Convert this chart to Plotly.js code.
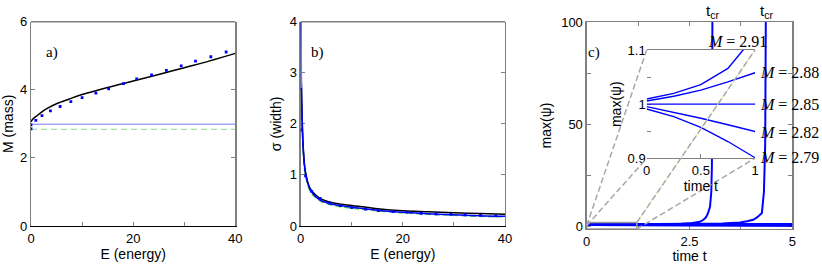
<!DOCTYPE html>
<html><head><meta charset="utf-8">
<script src="https://cdn.plot.ly/plotly-3.0.1.min.js"></script>
<style>html,body{margin:0;padding:0;background:#fff}#chart{width:822px;height:264px}</style>
</head><body><div id="chart"></div>
<script>
// ---------- Panel a) : M (mass) vs E (energy) ----------
const dotsE = [0, 0, 0.95, 2.15, 3.8, 5.7, 7.8, 10.0, 12.7, 15.2, 18.1, 20.7, 23.6, 26.5, 29.4, 32.2, 35.2, 38.2];
const dotsM = [2.85, 2.97, 3.10, 3.24, 3.38, 3.51, 3.65, 3.77, 3.90, 4.03, 4.18, 4.32, 4.44, 4.57, 4.70, 4.84, 4.97, 5.11];
const curveE_a = [0, 0.25, 0.5, 1, 2, 3, 5, 7.5, 10, 15, 20, 25, 30, 35, 40];
const curveM_a = [3.06, 3.12, 3.16, 3.22, 3.34, 3.44, 3.59, 3.73, 3.86, 4.07, 4.26, 4.45, 4.65, 4.85, 5.07];
const levelE = [0, 40];
const levelBlueM = [2.99, 2.99];
const levelGreenM = [2.84, 2.84];
const ticksE = [0, 20, 40];
const ticksM = [0, 2, 4, 6];

// ---------- Panel b) : sigma (width) vs E (energy) ----------
const dotsSigma = [2.68, 1.88, 0.98, 0.68, 0.54, 0.45, 0.40, 0.36, 0.33, 0.30, 0.28, 0.27, 0.25, 0.24, 0.23, 0.22, 0.21, 0.20];
const curveE_b = [0.01, 0.05, 0.1, 0.2, 0.35, 0.5, 0.75, 1, 1.5, 2, 3, 4, 5, 7, 10, 15, 20, 25, 30, 35, 40];
const sigmaBlack = [4.0, 3.5, 3.0, 2.5, 1.9, 1.55, 1.2, 1.03, 0.82, 0.71, 0.60, 0.53, 0.49, 0.44, 0.40, 0.34, 0.30, 0.28, 0.26, 0.245, 0.23];
const sigmaBlue  = [4.0, 3.4, 2.9, 2.4, 1.85, 1.5, 1.17, 1.0, 0.80, 0.69, 0.57, 0.50, 0.46, 0.41, 0.37, 0.31, 0.27, 0.24, 0.22, 0.20, 0.19];
const sigmaGreen = [3.6, 3.0, 2.6, 2.2, 1.75, 1.45, 1.12, 0.96, 0.77, 0.66, 0.55, 0.48, 0.44, 0.39, 0.35, 0.30, 0.26, 0.23, 0.21, 0.19, 0.18];
const lightE = [0.02, 0.05, 0.1];
const sigmaLight = [4.0, 3.2, 2.7];
const ticksSigma = [0, 1, 2, 3, 4];

// ---------- Panel c) : max(psi) vs time t ----------
const massLabels = ['2.91', '2.88', '2.85', '2.82', '2.79'];
const tA = [0, 0.25, 0.5, 0.75, 0.89, 1, 1.5, 2, 2.3, 2.5, 2.65, 2.75, 2.84, 2.9, 2.95, 3.0, 3.03, 3.045, 3.052, 3.056, 3.06];
const vA = [1.0095, 1.02, 1.036, 1.066, 1.1, 1.13, 1.2, 1.3, 1.42, 1.55, 1.8, 2.3, 3.3, 4.5, 6.5, 9.8, 17, 30, 60, 100, 130];
const tB = [0, 0.25, 0.5, 0.75, 1, 1.5, 2, 2.5, 3, 3.3, 3.5, 3.73, 3.9, 4.05, 4.15, 4.26, 4.31, 4.34, 4.355, 4.365];
const vB = [1.0058, 1.0145, 1.026, 1.041, 1.058, 1.09, 1.13, 1.2, 1.28, 1.5, 1.75, 2.0, 2.6, 3.3, 4.6, 6.6, 17, 40, 100, 130];
const tC = [0, 5];
const vC = [1, 1];
const tD = [0, 0.25, 0.5, 0.75, 1, 2, 3, 4, 5];
const vD = [0.9954, 0.985, 0.974, 0.962, 0.947, 0.90, 0.86, 0.83, 0.80];
const tE = [0, 0.25, 0.5, 0.75, 1, 2, 3, 4, 5];
const vE = [0.991, 0.977, 0.957, 0.931, 0.901, 0.80, 0.72, 0.66, 0.60];
const tCritical = [3.055, 4.36];
const ticksT = [0, 2.5, 5];
const ticksPsi = [0, 50, 100];
const ticksInsetT = [0, 0.5, 1];
const ticksInsetPsi = [0.9, 1, 1.1];

// ---------- layout geometry ----------
const domA = [0.0377, 0.2863], domB = [0.3658, 0.6144], domC = [0.7137, 0.9639];
const domYab = [0.1439, 0.9178], domYc = [0.1326, 0.9167];
const domX4 = [0.7867, 0.9185], domY4 = [0.4004, 0.8106];
const rangeX3 = [0, 5], rangeY3 = [-1.2, 100], rangeX4 = [0, 1], rangeY4 = [0.9, 1.1];
const zoomBox = {x0: 0, x1: 1.22, y0: -1.2, y1: 2};

function toPaper(v, dom, rng) { return dom[0] + (v - rng[0]) / (rng[1] - rng[0]) * (dom[1] - dom[0]); }

const SANS = 'Liberation Sans, Arial, sans-serif';
const SERIF = 'Liberation Serif, Times New Roman, serif';
const GRAY = '#808080';
const BLUE = '#0000ff';

const baseAxis = {
  showline: true, linecolor: GRAY, linewidth: 1.2, ticks: 'inside', ticklen: 4, tickcolor: GRAY,
  showgrid: false, zeroline: false, mirror: 'ticks', fixedrange: true, layer: 'below traces',
  tickfont: {family: SANS, size: 13, color: '#000'}
};
function minorTicks(step) { return {dtick: step, tick0: 0, ticks: 'inside', ticklen: 4, tickcolor: GRAY, showgrid: false}; }
function ax(extra) { return Object.assign({}, baseAxis, extra); }
const titleFont = {family: SANS, size: 14, color: '#000'};

const traces = [
  // a)
  {x: levelE, y: levelBlueM, xaxis: 'x', yaxis: 'y', mode: 'lines', line: {color: '#7878ff', width: 1}},
  {x: levelE, y: levelGreenM, xaxis: 'x', yaxis: 'y', mode: 'lines', line: {color: '#88dd88', width: 1, dash: '6px,4px'}},
  {x: curveE_a, y: curveM_a, xaxis: 'x', yaxis: 'y', mode: 'lines', line: {color: '#000', width: 1.5, shape: 'spline'}},
  {x: dotsE, y: dotsM, xaxis: 'x', yaxis: 'y', mode: 'markers', marker: {color: BLUE, size: 2.8, symbol: 'square'}},
  // b)
  {x: curveE_b, y: sigmaGreen, xaxis: 'x2', yaxis: 'y2', mode: 'lines', line: {color: '#44cc44', width: 1.5, dash: '6px,3px', shape: 'spline'}},
  {x: curveE_b, y: sigmaBlack, xaxis: 'x2', yaxis: 'y2', mode: 'lines', line: {color: '#000', width: 1.5, shape: 'spline'}},
  {x: curveE_b, y: sigmaBlue, xaxis: 'x2', yaxis: 'y2', mode: 'lines', line: {color: BLUE, width: 1.5, shape: 'spline'}},
  {x: lightE, y: sigmaLight, xaxis: 'x2', yaxis: 'y2', mode: 'lines', line: {color: '#7878ff', width: 2}},
  {x: dotsE, y: dotsSigma, xaxis: 'x2', yaxis: 'y2', mode: 'markers', marker: {color: BLUE, size: 2.8, symbol: 'square'}},
  // c) main
  {x: tC, y: vC, xaxis: 'x3', yaxis: 'y3', mode: 'lines', line: {color: BLUE, width: 3}},
  {x: tD, y: vD, xaxis: 'x3', yaxis: 'y3', mode: 'lines', line: {color: BLUE, width: 3}},
  {x: tE, y: vE, xaxis: 'x3', yaxis: 'y3', mode: 'lines', line: {color: BLUE, width: 3}},
  {x: tA, y: vA, xaxis: 'x3', yaxis: 'y3', mode: 'lines', line: {color: BLUE, width: 2}},
  {x: tB, y: vB, xaxis: 'x3', yaxis: 'y3', mode: 'lines', line: {color: BLUE, width: 2}},
  // c) inset
  {x: tA, y: vA, xaxis: 'x4', yaxis: 'y4', mode: 'lines', line: {color: BLUE, width: 1.4}},
  {x: tB, y: vB, xaxis: 'x4', yaxis: 'y4', mode: 'lines', line: {color: BLUE, width: 1.4}},
  {x: tC, y: vC, xaxis: 'x4', yaxis: 'y4', mode: 'lines', line: {color: BLUE, width: 1.4}},
  {x: tD, y: vD, xaxis: 'x4', yaxis: 'y4', mode: 'lines', line: {color: BLUE, width: 1.4}},
  {x: tE, y: vE, xaxis: 'x4', yaxis: 'y4', mode: 'lines', line: {color: BLUE, width: 1.4}}
];

// connector lines from the zoom box to the inset corners (paper coordinates)
const bx0 = toPaper(zoomBox.x0, domC, rangeX3), bx1 = toPaper(zoomBox.x1, domC, rangeX3);
const byTop = toPaper(zoomBox.y1, domYc, rangeY3), byBot = toPaper(zoomBox.y0, domYc, rangeY3);
const byMid = toPaper(0.4, domYc, rangeY3);
const dashLine = {color: '#a8a8a8', width: 1.5, dash: '6px,3px'};
const shapes = [
  {type: 'line', xref: 'x domain', yref: 'y domain', x0: 0, x1: 1, y0: 1, y1: 1, line: {color: GRAY, width: 1.6}},
  {type: 'line', xref: 'x2 domain', yref: 'y2 domain', x0: 0, x1: 1, y0: 1, y1: 1, line: {color: GRAY, width: 1.6}},
  {type: 'rect', xref: 'x3', yref: 'y3', x0: zoomBox.x0, x1: zoomBox.x1, y0: zoomBox.y0, y1: zoomBox.y1, line: {color: '#999', width: 1.5}},
  {type: 'line', xref: 'paper', yref: 'paper', x0: bx0, y0: byMid, x1: domX4[0], y1: domY4[1], line: dashLine},
  {type: 'line', xref: 'paper', yref: 'paper', x0: bx0, y0: byMid, x1: domX4[0], y1: domY4[0], line: dashLine},
  {type: 'line', xref: 'paper', yref: 'paper', x0: bx1, y0: byTop, x1: domX4[1], y1: domY4[1], line: {color: '#e4e4a0', width: 1}},
  {type: 'line', xref: 'paper', yref: 'paper', x0: bx1, y0: byTop, x1: domX4[1], y1: domY4[1], line: dashLine},
  {type: 'line', xref: 'paper', yref: 'paper', x0: bx1, y0: byBot, x1: domX4[1], y1: domY4[0], line: dashLine}
];

// inset end values where the mass labels sit
const labelY = [null, vB[4], vC[0], vD[4], vE[4]];
const annotations = [
  {text: 'a)', xref: 'paper', yref: 'paper', x: 44 / 822, y: 1 - 42 / 264, showarrow: false, font: {family: SERIF, size: 15, color: '#000'}},
  {text: 'b)', xref: 'paper', yref: 'paper', x: 317 / 822, y: 1 - 42 / 264, showarrow: false, font: {family: SERIF, size: 15, color: '#000'}},
  {text: 'c)', xref: 'paper', yref: 'paper', x: 602 / 822, y: 1 - 42 / 264, showarrow: false, font: {family: SERIF, size: 15, color: '#000'}},
  {text: '<i>M</i> = ' + massLabels[0], xref: 'paper', yref: 'paper', x: toPaper(0.84, domX4, rangeX4), y: domY4[1], yshift: 9,
   xanchor: 'center', yanchor: 'middle', showarrow: false, font: {family: SERIF, size: 16, color: '#000'}}
];
for (let i = 1; i < massLabels.length; i++) {
  annotations.push({text: '<i>M</i> = ' + massLabels[i], xref: 'paper', yref: 'paper',
    x: domX4[1], xshift: 3, y: toPaper(labelY[i], domY4, rangeY4), xanchor: 'left', yanchor: 'middle',
    showarrow: false, font: {family: SERIF, size: 16, color: '#000'}});
}
tCritical.forEach(tc => annotations.push({text: 't<sub>cr</sub>', xref: 'paper', yref: 'paper',
  x: toPaper(tc, domC, rangeX3), y: 1 - 12 / 264, xanchor: 'center', yanchor: 'middle', showarrow: false,
  font: {family: SANS, size: 15, color: '#000'}}));

const layout = {
  width: 822, height: 264, margin: {l: 0, r: 0, t: 0, b: 0},
  paper_bgcolor: '#fff', plot_bgcolor: '#fff', showlegend: false, hovermode: false,
  font: {family: SANS, color: '#000'},
  xaxis: ax({domain: domA, anchor: 'y', range: [0, 40], tickvals: ticksE, minor: minorTicks(10),
    linecolor: '#000', mirror: false, title: {text: 'E (energy)', font: titleFont, standoff: 3}}),
  yaxis: ax({domain: domYab, anchor: 'x', range: [0, 6], tickvals: ticksM,
    title: {text: 'M (mass)', font: titleFont, standoff: 4}}),
  xaxis2: ax({domain: domB, anchor: 'y2', range: [0, 40], tickvals: ticksE, minor: minorTicks(10),
    linecolor: '#000', mirror: false, title: {text: 'E (energy)', font: titleFont, standoff: 3}}),
  yaxis2: ax({domain: domYab, anchor: 'x2', range: [0, 4], tickvals: ticksSigma,
    title: {text: 'σ (width)', font: titleFont, standoff: 4}}),
  xaxis3: ax({domain: domC, anchor: 'y3', range: rangeX3, tickvals: ticksT, minor: minorTicks(1.25),
    title: {text: 'time t', font: titleFont, standoff: 3}}),
  yaxis3: ax({domain: domYc, anchor: 'x3', range: rangeY3, tickvals: ticksPsi, minor: minorTicks(25),
    title: {text: 'max(ψ)', font: titleFont, standoff: 6}}),
  xaxis4: ax({domain: domX4, anchor: 'y4', range: rangeX4, tickvals: ticksInsetT, mirror: true, linewidth: 1,
    title: {text: 'time t', font: titleFont, standoff: 0}}),
  yaxis4: ax({domain: domY4, anchor: 'x4', range: rangeY4, tickvals: ticksInsetPsi, minor: minorTicks(0.05),
    showline: false, mirror: false, title: {text: 'max(ψ)', font: titleFont, standoff: 2}}),
  shapes: shapes,
  annotations: annotations
};

Plotly.newPlot('chart', traces, layout, {staticPlot: true, displayModeBar: false});
</script>
</body></html>
